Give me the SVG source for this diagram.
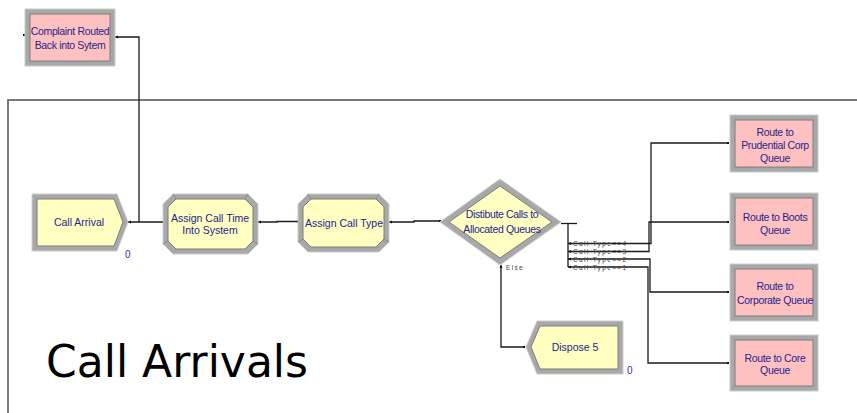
<svg xmlns="http://www.w3.org/2000/svg" width="857" height="413" viewBox="0 0 857 413">
  <style>
    .bevel { fill: #a8a8a8; stroke: #cccccc; stroke-width: 1; }
    .face-y { fill: #ffffc2; stroke: #7d7d7d; stroke-width: 1; }
    .face-p { fill: #ffc0c0; stroke: #7d7d7d; stroke-width: 1; }
    .corner { stroke: #8a8a8a; stroke-width: 1; fill: none; }
    .lbl { font-family: "Liberation Sans", Arial, sans-serif; font-size: 10.5px; fill: #24248c; text-anchor: middle; }
    .narrow { letter-spacing: -0.35px; }
    .cnt { font-family: "Liberation Sans", Arial, sans-serif; font-size: 10px; fill: #3030b0; }
    .cond { font-family: "Liberation Sans", Arial, sans-serif; font-size: 6.5px; fill: #444444; letter-spacing: 1.35px; }
    .wire { fill: none; stroke: #1a1a1a; stroke-width: 1.3; }
    .frame { fill: none; stroke: #7a7a7a; stroke-width: 2; }
    .pin { fill: #111111; }
    .title { font-family: "DejaVu Sans", Verdana, sans-serif; font-size: 44px; fill: #000000; }
  </style>

  <!-- submodel frame -->
  <path class="frame" d="M8,413 V100 H857"/>

  <!-- connectors -->
  <g id="connectors">
    <path class="wire" d="M115,37 H139 V222"/>
    <path class="wire" d="M128,222 H163"/>
    <path class="wire" d="M258,222 H277 V221.5 H298"/>
    <path class="wire" d="M389,222 H414 V221 H440"/>
    <path class="wire" d="M561,223.5 H577"/>
    <path class="wire" d="M568,223.5 V267"/>
    <path class="wire" d="M568,243.5 H651 V143 H728"/>
    <path class="wire" d="M568,251.5 H649 V222 H728"/>
    <path class="wire" d="M568,259 H650 V292 H728"/>
    <path class="wire" d="M568,267 H648 V363 H728"/>
    <path class="wire" d="M501,265 V347 H524"/>
    <!-- exit pins -->
    <path class="pin" d="M115,37 l3,-1.5 v3 z"/>
    <path class="pin" d="M128,222 l3,-1.5 v3 z"/>
    <path class="pin" d="M258,222 l3,-1.5 v3 z"/>
    <path class="pin" d="M389,222 l3,-1.5 v3 z"/>
    <path class="pin" d="M568,243.5 l3,-1.5 v3 z"/>
    <path class="pin" d="M568,251.5 l3,-1.5 v3 z"/>
    <path class="pin" d="M568,259 l3,-1.5 v3 z"/>
    <path class="pin" d="M568,267 l3,-1.5 v3 z"/>
    <path class="pin" d="M501,265 l-1.5,3 h3 z"/>
    <!-- entry pins -->
    <rect class="pin" x="23" y="34" width="2" height="2"/>
    <rect class="pin" x="162" y="221" width="2" height="2"/>
    <rect class="pin" x="297" y="220.5" width="2" height="2"/>
    <rect class="pin" x="439" y="220" width="2" height="2"/>
    <rect class="pin" x="727" y="142" width="2" height="2"/>
    <rect class="pin" x="727" y="221" width="2" height="2"/>
    <rect class="pin" x="727" y="291" width="2" height="2"/>
    <rect class="pin" x="727" y="362" width="2" height="2"/>
    <rect class="pin" x="523" y="346" width="2" height="2"/>
    <!-- branch conditions -->
    <text class="cond" x="573" y="246">Call Type==4</text>
    <text class="cond" x="573" y="254">Call Type==3</text>
    <text class="cond" x="573" y="262">Call Type==2</text>
    <text class="cond" x="573" y="270">Call Type==1</text>
    <text class="cond" x="506" y="270">Else</text>
  </g>

  <g id="complaint-routed">
    <rect class="bevel" x="25" y="9" width="90" height="57"/>
    <rect class="face-p" x="30" y="14" width="80" height="47"/>
    <text class="lbl narrow" x="70" y="35">Complaint Routed</text>
    <text class="lbl narrow" x="70" y="48.5">Back into Sytem</text>
  </g>

  <g id="call-arrival">
    <path class="bevel" d="M32,194 H117 L128,222 L117,251 H32 Z"/>
    <path class="face-y" d="M37,199 H114 L123,222 L114,246 H37 Z"/>
    <text class="lbl" x="79" y="226">Call Arrival</text>
    <text class="cnt" x="125" y="258">0</text>
  </g>

  <g id="assign-call-time">
    <path class="bevel" d="M173,194 H248 L258,204 V244 L248,254 H173 L163,244 V204 Z"/>
    <path class="face-y" d="M176,199 H245 L253,207 V241 L245,249 H176 L168,241 V207 Z"/>
    <path class="corner" d="M173,194 L176,199 M248,194 L245,199 M258,244 L253,241 M163,244 L168,241"/>
    <text class="lbl" x="210" y="222">Assign Call Time</text>
    <text class="lbl" x="210" y="234">Into System</text>
  </g>

  <g id="assign-call-type">
    <path class="bevel" d="M308,194 H379 L389,204 V242 L379,252 H308 L298,242 V204 Z"/>
    <path class="face-y" d="M311,199 H376 L384,207 V239 L376,247 H311 L303,239 V207 Z"/>
    <path class="corner" d="M308,194 L311,199 M379,194 L376,199 M389,242 L384,239 M298,242 L303,239"/>
    <text class="lbl" x="344" y="227">Assign Call Type</text>
  </g>

  <g id="distribute-calls">
    <path class="bevel" d="M440,222 L500,179 L561,222 L500,265 Z"/>
    <path class="face-y" d="M449,222 L500,186 L552,222 L500,258 Z"/>
    <text class="lbl narrow" x="502" y="218">Distibute Calls to</text>
    <text class="lbl narrow" x="502" y="233">Allocated Queues</text>
  </g>

  <g id="dispose-5">
    <path class="bevel" d="M526,347 L537,321 H623 V374 H537 Z"/>
    <path class="face-y" d="M531,347 L540,326 H618 V369 H540 Z"/>
    <text class="lbl" x="575" y="351">Dispose 5</text>
    <text class="cnt" x="627" y="374">0</text>
  </g>

  <g id="route-prudential">
    <rect class="bevel" x="730" y="115" width="88" height="57"/>
    <rect class="face-p" x="735" y="120" width="78" height="47"/>
    <text class="lbl narrow" x="775" y="135.5">Route to</text>
    <text class="lbl narrow" x="775" y="148.5">Prudential Corp</text>
    <text class="lbl narrow" x="775" y="161.5">Queue</text>
  </g>

  <g id="route-boots">
    <rect class="bevel" x="730" y="193" width="88" height="57"/>
    <rect class="face-p" x="735" y="198" width="78" height="47"/>
    <text class="lbl narrow" x="775" y="221">Route to Boots</text>
    <text class="lbl narrow" x="775" y="233.5">Queue</text>
  </g>

  <g id="route-corporate">
    <rect class="bevel" x="730" y="264" width="88" height="57"/>
    <rect class="face-p" x="735" y="269" width="78" height="47"/>
    <text class="lbl narrow" x="775" y="290">Route to</text>
    <text class="lbl narrow" x="775" y="304">Corporate Queue</text>
  </g>

  <g id="route-core">
    <rect class="bevel" x="730" y="335" width="88" height="56"/>
    <rect class="face-p" x="735" y="340" width="78" height="46"/>
    <text class="lbl narrow" x="775" y="361.5">Route to Core</text>
    <text class="lbl narrow" x="775" y="373.5">Queue</text>
  </g>

  <text class="title" x="46" y="377">Call Arrivals</text>
</svg>
